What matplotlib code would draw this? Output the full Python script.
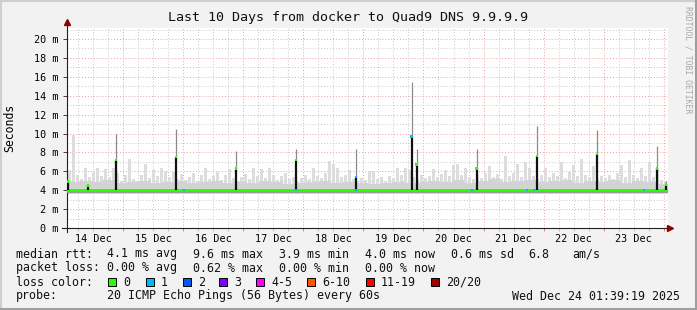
import matplotlib
matplotlib.use("Agg")
import matplotlib.pyplot as plt
import matplotlib.dates as mdates
from matplotlib.patches import Rectangle
from matplotlib.lines import Line2D
from matplotlib.ticker import MultipleLocator, FuncFormatter
import numpy as np
import pandas as pd

plt.rcParams['font.family'] = ['DejaVu Sans Mono']

start = pd.Timestamp("2025-12-14 01:39:19")
end = pd.Timestamp("2025-12-24 01:39:19")

# grey smoke peaks (ms), one value per 1.6 h
smoke_top = [6.1, 9.8, 5.6, 5.2, 6.3, 5.4, 5.9, 6.3, 5.5, 6.2, 5.4, 6.4, 5.8, 5.0, 5.6,
             7.3, 5.2, 5.0, 5.6, 6.8, 5.3, 6.1, 5.5, 6.3, 6.0, 5.4, 5.9, 5.2, 5.7, 5.1,
             5.4, 5.8, 5.0, 5.6, 6.3, 5.2, 5.5, 5.9, 5.1, 5.6, 6.2, 5.3, 5.0, 5.4, 5.7,
             5.2, 6.3, 5.5, 6.2, 5.3, 6.4, 5.6, 5.1, 5.5, 5.8, 5.2, 5.4, 5.0, 5.3, 5.6,
             5.2, 6.4, 5.5, 5.3, 5.8, 7.1, 6.8, 6.3, 5.4, 5.6, 6.1, 5.2, 5.0, 5.3, 5.1,
             6.0, 6.0, 5.2, 5.4, 5.0, 5.5, 5.3, 6.3, 5.6, 6.4, 6.1, 5.4, 5.2, 5.6, 5.3,
             5.5, 6.2, 5.4, 5.7, 6.1, 5.5, 6.7, 6.8, 5.6, 6.3, 5.4, 5.2, 5.6, 5.3, 5.8,
             6.6, 5.4, 5.7, 5.2, 7.6, 5.5, 5.8, 6.8, 5.4, 7.0, 6.3, 5.5, 5.2, 5.6, 6.3,
             5.4, 5.8, 5.5, 7.0, 5.3, 5.9, 6.7, 5.5, 7.3, 5.6, 5.4, 6.6, 5.2, 5.5, 5.3,
             5.6, 5.2, 5.8, 6.7, 5.4, 7.2, 5.6, 5.3, 6.3, 5.5, 7.0, 5.4, 6.2, 5.1, 5.0]

# dense part of the smoke (ms), one value per 4.8 h
smoke_body = [4.9, 5.0, 4.9, 5.1, 4.8, 4.9, 5.0, 4.8, 4.9, 5.0,
              4.8, 4.9, 5.0, 4.8, 4.9, 4.8, 5.0, 4.9, 4.7, 4.8,
              4.9, 5.0, 4.8, 4.9, 4.8, 4.7, 4.8, 4.9, 4.8, 4.9,
              5.0, 4.9, 5.1, 4.8, 5.0, 5.2, 4.9, 5.0, 5.1, 4.9,
              5.0, 5.1, 4.8, 5.0, 4.9, 5.1, 4.8, 5.0, 4.9, 4.7]

median_ms = 4.0
smoke_low = 3.65

spike_times = ["2025-12-14 01:57", "2025-12-14 09:57", "2025-12-14 21:09", "2025-12-15 21:09",
               "2025-12-16 21:09", "2025-12-17 21:09", "2025-12-18 21:09", "2025-12-19 19:15",
               "2025-12-19 21:15", "2025-12-20 21:15", "2025-12-21 21:15", "2025-12-22 21:15",
               "2025-12-23 21:15", "2025-12-24 00:51"]
spike_med = [4.9, 4.5, 7.2, 7.5, 6.3, 7.2, 5.4, 9.7, 6.7, 6.3, 7.6, 7.8, 6.3, 4.6]
spike_max = [5.0, 4.6, 10.0, 10.5, 8.1, 8.4, 8.4, 15.4, 8.4, 8.4, 10.8, 10.4, 8.7, 5.0]
spike_loss = [0, 0, 0, 0, 0, 0, 1, 1, 0, 0, 0, 0, 0, 0]

loss1_times = ["2025-12-16 00:27", "2025-12-17 21:09", "2025-12-18 21:09", "2025-12-20 19:33",
               "2025-12-21 17:15", "2025-12-21 20:03", "2025-12-23 16:00"]

loss_labels = ["0", "1", "2", "3", "4-5", "6-10", "11-19", "20/20"]
loss_colors = ['#26ff00', '#00b8ff', '#0059ff', '#7e00ff', '#ff00ff', '#ff5500', '#ff0000', '#a10000']

W, H = 697, 310


def fx(x):
    return x / W


def fy(y):
    return 1 - y / H


fig = plt.figure(figsize=(W / 100, H / 100), dpi=100, facecolor='#f2f2f2')
ax = fig.add_axes([fx(67), fy(228), fx(668) - fx(67), fy(28) - fy(228)], facecolor='white')

t0 = mdates.date2num(start)
t1 = mdates.date2num(end)
top_w = (t1 - t0) / len(smoke_top)
top_x = t0 + (np.arange(len(smoke_top)) + 0.5) * top_w
body_w = (t1 - t0) / len(smoke_body)
body_x = t0 + (np.arange(len(smoke_body)) + 0.5) * body_w

# smoke
ax.bar(top_x, np.array(smoke_top) - smoke_low, bottom=smoke_low, width=top_w * 0.75,
       color='#dddddd', linewidth=0, zorder=2)
ax.fill_between(np.r_[t0, body_x, t1], smoke_low, np.r_[smoke_body[0], smoke_body, smoke_body[-1]],
                step='mid', color='#d3d3d3', linewidth=0, zorder=2)
ax.fill_between([t0, t1], 3.72, median_ms, color='#9a9a9a', linewidth=0, zorder=3)

# median line
ax.plot([t0, t1], [median_ms, median_ms], color=loss_colors[0], lw=2.0, zorder=5,
        solid_capstyle='butt')

sx = mdates.date2num(pd.to_datetime(spike_times))
ax.vlines(sx, spike_med, spike_max, color='#8a8a8a', lw=0.9, zorder=4)
ax.vlines(sx, median_ms, spike_med, color='#111111', lw=1.6, zorder=6)
ax.scatter(sx, spike_med, marker='s', s=3, color=[loss_colors[i] for i in spike_loss],
           linewidths=0, zorder=7)
ax.scatter(mdates.date2num(pd.to_datetime(loss1_times)), [median_ms] * len(loss1_times),
           marker='s', s=3, color=loss_colors[1], linewidths=0, zorder=7)

ax.set_xlim(t0, t1)
ax.set_ylim(0, 200 / 9.45)

# grid
ax.xaxis.set_major_locator(mdates.DayLocator())
ax.xaxis.set_minor_locator(mdates.HourLocator(byhour=[0, 6, 12, 18]))
ax.yaxis.set_major_locator(MultipleLocator(2))
ax.yaxis.set_minor_locator(MultipleLocator(1))
ax.yaxis.set_major_formatter(FuncFormatter(lambda v, p: f"{v:.0f} m"))
ax.set_axisbelow(True)
ax.grid(which='major', color='#eba0a0', ls=(0, (1, 2)), lw=0.7)
ax.grid(which='minor', color='#c8c8c8', ls=(0, (1, 2)), lw=0.7)
ax.tick_params(axis='x', which='major', labelbottom=False, color='#e08080', length=2, width=0.7)
ax.tick_params(axis='x', which='minor', color='#c0c0c0', length=2, width=0.7)
ax.tick_params(axis='y', which='major', labelsize=7.3, length=3, width=0.7, pad=3, color='#404040')
ax.tick_params(axis='y', which='minor', length=0)

sec = ax.secondary_xaxis('bottom')
sec.xaxis.set_major_locator(mdates.HourLocator(byhour=[12]))
sec.xaxis.set_major_formatter(mdates.DateFormatter('%d %b'))
sec.tick_params(length=0, labelsize=7.3, pad=4)
sec.spines['bottom'].set_visible(False)

for s in ax.spines.values():
    s.set_visible(False)
ax.add_line(Line2D([0, 0], [-0.02, 1.015], transform=ax.transAxes, color='#202020', lw=0.8,
                   clip_on=False))
ax.add_line(Line2D([-0.008, 1.0], [0, 0], transform=ax.transAxes, color='#202020', lw=0.8,
                   clip_on=False))
ax.plot([0], [1.03], marker='^', ms=4, color='#8b0000', transform=ax.transAxes, clip_on=False)
ax.plot([1.004], [0], marker='>', ms=4, color='#8b0000', transform=ax.transAxes, clip_on=False)

# texts
fig.text(fx(348), fy(18), "Last 10 Days from docker to Quad9 DNS 9.9.9.9", ha='center', va='center',
         fontsize=9.6, color='#111111')
fig.text(fx(10), fy(128), "Seconds", rotation=90, ha='center', va='center', fontsize=8.3)
fig.text(fx(688), fy(6), "RRDTOOL / TOBI OETIKER", rotation=270, ha='center', va='top',
         fontsize=5.9, color='#a8a8a8')

fs = 8.4
rows = [
    (254, [(16, "median rtt:"), (107, "4.1 ms avg"), (193, "9.6 ms max"), (279, "3.9 ms min"),
           (365, "4.0 ms now"), (451, "0.6 ms sd"), (528, "6.8"), (572, "am/s")]),
    (268, [(16, "packet loss:"), (107, "0.00 % avg"), (193, "0.62 % max"), (279, "0.00 % min"),
           (365, "0.00 % now")]),
    (282, [(16, "loss color:")]),
    (296, [(16, "probe:"), (107, "20 ICMP Echo Pings (56 Bytes) every 60s")]),
]
for y, items in rows:
    for x, s in items:
        fig.text(fx(x), fy(y), s, ha='left', va='center', fontsize=fs, color='#111111')
fig.text(fx(680), fy(296), "Wed Dec 24 01:39:19 2025", ha='right', va='center', fontsize=fs,
         color='#111111')

box_x = [108, 146, 183, 219, 256, 307, 366, 431]
for bx, lab, col in zip(box_x, loss_labels, loss_colors):
    fig.add_artist(Rectangle((fx(bx), fy(286)), 8 / W, 8 / H, facecolor=col, edgecolor='black',
                             lw=0.7, transform=fig.transFigure))
    fig.text(fx(bx + 15), fy(282), lab, ha='left', va='center', fontsize=fs, color='#111111')

# 3d frame
fig.add_artist(Line2D([0, 1], [1 - 1 / H, 1 - 1 / H], color='#cfcfcf', lw=1.5))
fig.add_artist(Line2D([1 / W, 1 / W], [0, 1], color='#cfcfcf', lw=1.5))
fig.add_artist(Line2D([0, 1], [1.5 / H, 1.5 / H], color='#9e9e9e', lw=2.2))
fig.add_artist(Line2D([1 - 1.5 / W, 1 - 1.5 / W], [0, 1], color='#9e9e9e', lw=2.2))

fig.savefig("out.png", dpi=100, facecolor=fig.get_facecolor())
